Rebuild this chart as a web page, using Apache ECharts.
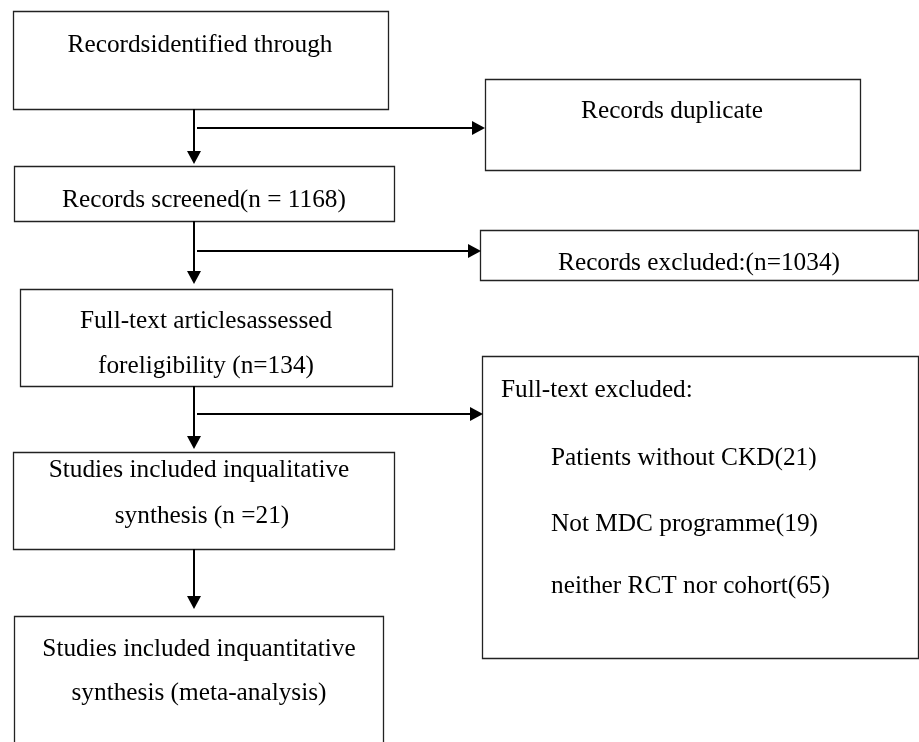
<!DOCTYPE html>
<html>
<head>
<meta charset="utf-8">
<script src="https://cdn.jsdelivr.net/npm/echarts@6/dist/echarts.min.js"></script>
<style>
  html, body { margin: 0; padding: 0; background: #fff; }
  #chart { width: 919px; height: 742px; }
</style>
</head>
<body>
<div id="chart"></div>
<script>
// box corners [x0, y0, x1, y1] in page units (y grows downward)
const boxes = [
  [13, 11, 388, 109],
  [485, 79, 860, 170],
  [14, 166, 394, 221],
  [480, 230, 918, 280],
  [20, 289, 392, 386],
  [482, 356, 918, 658],
  [13, 452, 394, 549],
  [14, 616, 383, 760]
];

// centred text lines
const centerTexts = [
  "Recordsidentified through",
  "Records duplicate",
  "Records screened(n = 1168)",
  "Records excluded:(n=1034)",
  "Full-text articlesassessed",
  "foreligibility (n=134)",
  "Studies included inqualitative",
  "synthesis (n =21)",
  "Studies included inquantitative",
  "synthesis (meta-analysis)"
];
const centerPos = [
  [200, 44], [672, 110], [204, 199], [699, 262], [206, 320],
  [206, 365], [199, 469], [202, 515], [199, 648], [199, 692]
];

// left aligned text lines (exclusion box)
const leftTexts = [
  "Full-text excluded:",
  "Patients without CKD(21)",
  "Not MDC programme(19)",
  "neither RCT nor cohort(65)"
];
const leftPos = [[501, 389], [551, 457], [551, 523], [551, 585]];

// arrows [x0, y0, x1, y1], head at the end
const arrows = [
  [194, 109, 194, 164],
  [197, 128, 485, 128],
  [194, 221, 194, 284],
  [197, 251, 481, 251],
  [194, 386, 194, 449],
  [197, 414, 483, 414],
  [194, 549, 194, 609]
];

const FONT = '25.3px "Liberation Serif", "Times New Roman", serif';

let myChart = echarts.init(document.getElementById("chart"));

function textSeries(pos, texts, align) {
  return {
    type: "custom",
    coordinateSystem: "cartesian2d",
    data: pos,
    renderItem: function (params, api) {
      const p = api.coord([api.value(0), api.value(1)]);
      return {
        type: "text",
        style: {
          text: texts[params.dataIndex],
          x: p[0],
          y: p[1] + 1,
          font: FONT,
          fill: "#000",
          align: align,
          verticalAlign: "middle"
        }
      };
    }
  };
}

let option = {
  animation: false,
  grid: { left: 0, right: 0, top: 0, bottom: 0 },
  xAxis: { type: "value", min: 0, max: 919, show: false },
  yAxis: { type: "value", min: 0, max: 742, inverse: true, show: false },
  series: [
    {
      // boxes
      type: "custom",
      coordinateSystem: "cartesian2d",
      data: boxes,
      renderItem: function (params, api) {
        const a = api.coord([api.value(0), api.value(1)]);
        const b = api.coord([api.value(2), api.value(3)]);
        return {
          type: "rect",
          shape: { x: a[0] + 0.5, y: a[1] + 0.5, width: b[0] - a[0], height: b[1] - a[1] },
          style: { fill: "#fff", stroke: "#222", lineWidth: 1.3 }
        };
      }
    },
    {
      // arrows
      type: "custom",
      coordinateSystem: "cartesian2d",
      data: arrows,
      renderItem: function (params, api) {
        const a = api.coord([api.value(0), api.value(1)]);
        const b = api.coord([api.value(2), api.value(3)]);
        const dx = b[0] - a[0], dy = b[1] - a[1];
        const len = Math.sqrt(dx * dx + dy * dy);
        const ux = dx / len, uy = dy / len;
        const hl = 13, hw = 7;
        const base = [b[0] - ux * hl, b[1] - uy * hl];
        return {
          type: "group",
          children: [
            {
              type: "line",
              shape: { x1: a[0], y1: a[1], x2: base[0], y2: base[1] },
              style: { stroke: "#000", lineWidth: 2 }
            },
            {
              type: "polygon",
              shape: {
                points: [
                  [b[0], b[1]],
                  [base[0] - uy * hw, base[1] + ux * hw],
                  [base[0] + uy * hw, base[1] - ux * hw]
                ]
              },
              style: { fill: "#000" }
            }
          ]
        };
      }
    },
    textSeries(centerPos, centerTexts, "center"),
    textSeries(leftPos, leftTexts, "left")
  ]
};
myChart.setOption(option);
</script>
</body>
</html>
